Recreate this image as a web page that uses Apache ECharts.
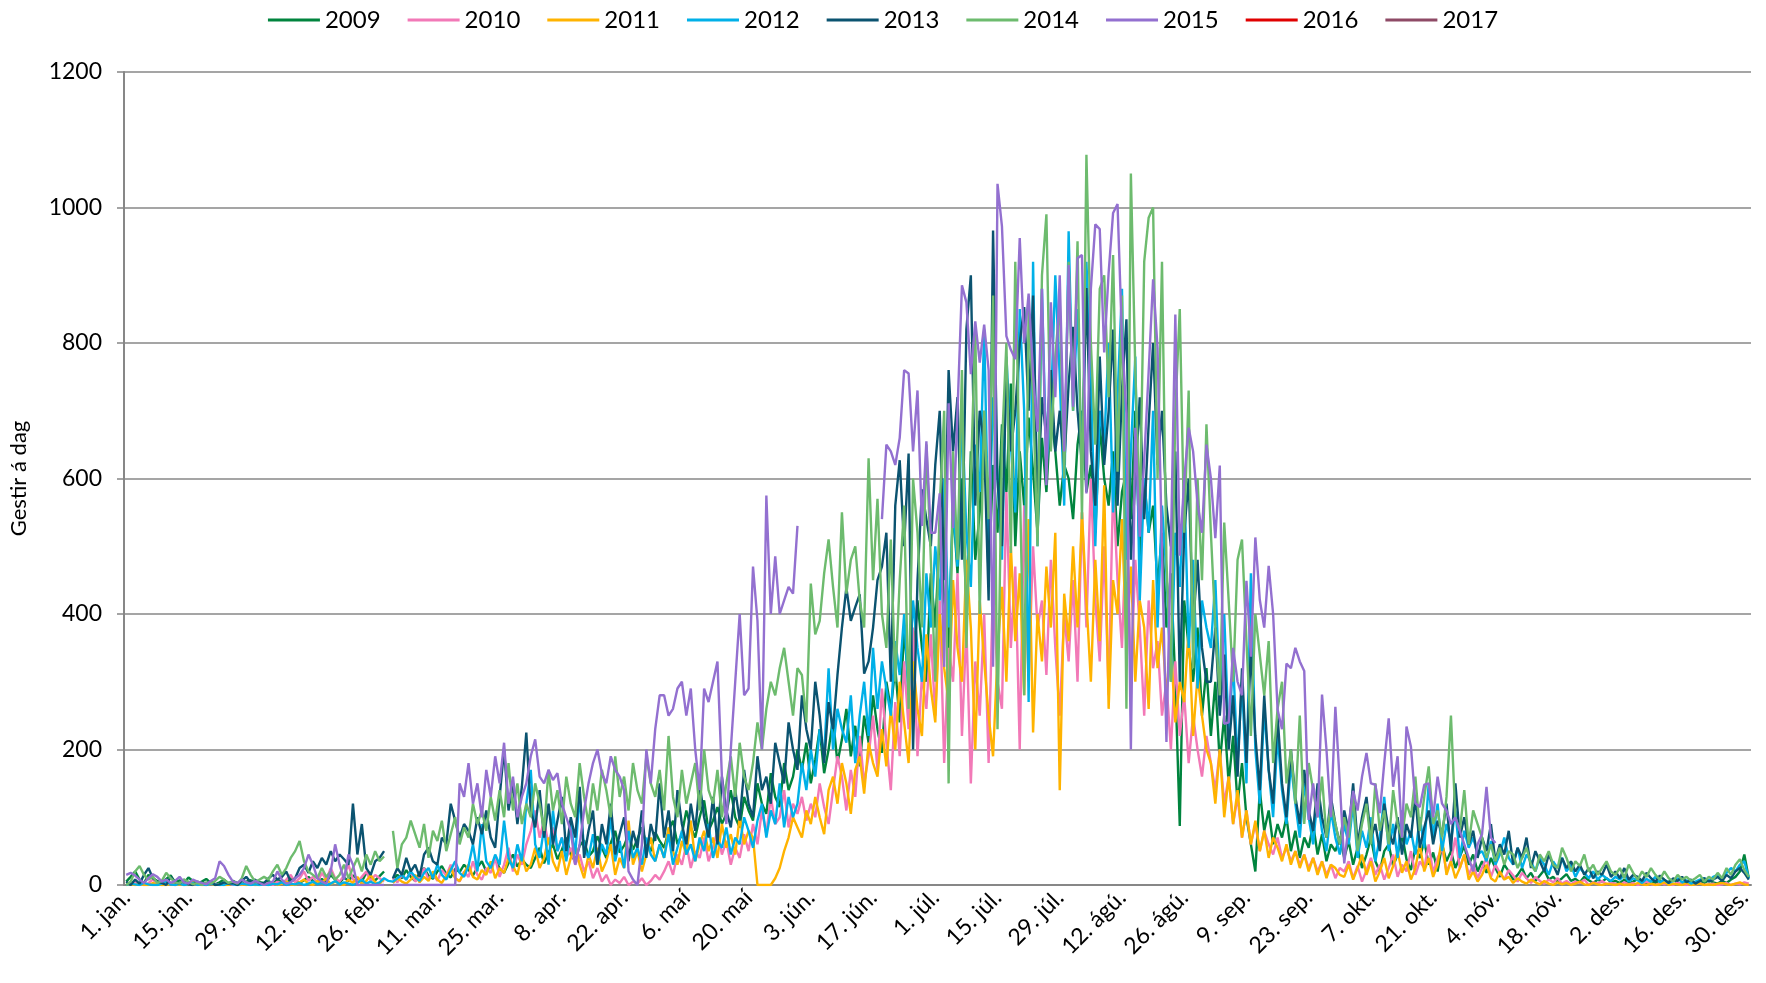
<!DOCTYPE html>
<html>
<head>
<meta charset="utf-8">
<script src="https://cdn.jsdelivr.net/npm/echarts@6/dist/echarts.min.js"></script>
<style>
  html, body { margin: 0; padding: 0; background: #fff; }
  #chart { width: 1766px; height: 983px; }
</style>
</head>
<body>
<div id="chart"></div>
<script>
// day labels (leap-year calendar, 366 days)
const monthNames = ['jan.', 'feb.', 'mar.', 'apr.', 'maí', 'jún.', 'júl.', 'ágú.', 'sep.', 'okt.', 'nóv.', 'des.'];
const monthDays = [31, 29, 31, 30, 31, 30, 31, 31, 30, 31, 30, 31];
const yTicks = [0, 200, 400, 600, 800, 1000, 1200];

const years = ['2009', '2010', '2011', '2012', '2013', '2014', '2015', '2016', '2017'];
const colors = ['#00843e', '#f279b7', '#ffb300', '#00b0e8', '#0b5370', '#6dbb6e', '#9370d0', '#e00000', '#8e4a66'];

// visitors per day, one sub-list per month
const y2009 = [
  [5,12,20,8,3,15,10,6,2,9, 14,4,7,3,11,6,2,5,9,3, 1,4,8,2,6,3,1,5,7,2, 4],
  [3,6,2,8,4,1,10,5,3,7, 12,6,2,9,4,15,8,3,11,6, 14,9,5,18,10,7,13,20, null],
  [8,15,10,22,12,6,18,25,14,9, 20,28,16,11,24,19,30,22,14,26, 35,20,28,40,24,18,32,45,27,38, 30],
  [25,40,55,32,48,60,38,52,70,45, 35,58,66,42,50,72,55,40,62,80, 48,58,75,52,68,85,60,50,78,65],
  [55,80,95,60,75,110,85,70,100,125, 80,95,115,90,105,140,100,85,130,110, 95,150,120,105,165,130,115,180,140,160, 200],
  [170,210,150,185,230,165,200,245,180,215, 260,190,235,175,250,210,280,230,195,300, 260,320,240,380,290,330,420,350,300,460],
  [380,520,420,350,560,460,600,400,640,480, 550,700,450,620,520,680,580,740,500,640, 560,690,610,520,660,580,700,640,560,620, 600],
  [540,650,700,580,620,520,680,600,560,640, 500,580,610,540,700,480,600,520,560,440, 520,380,460,300,87,420,350,300,380,250, 320],
  [220,300,180,250,150,220,120,180,100,60, 20,140,80,110,60,90,70,100,50,80, 40,70,55,90,45,75,35,60,50,70],
  [40,65,30,55,25,45,70,35,20,50, 60,28,45,75,38,22,55,40,65,30, 48,20,60,35,50,25,42,58,30,45, 20],
  [35,18,40,25,12,30,20,8,15,25, 10,18,6,14,22,8,12,5,10,16, 6,9,4,12,7,3,8,5,10,4],
  [6,3,8,2,5,9,4,1,6,3, 7,2,5,8,3,1,4,6,2,5, 3,7,4,2,6,3,8,12,20,45, 10]
].flat();

const y2010 = [
  [0,2,5,1,0,3,8,2,0,1, 4,0,2,6,1,0,3,0,1,5, 2,0,1,3,0,2,0,4,1,0, 2],
  [1,3,0,5,2,8,15,4,10,20, 6,12,3,18,8,25,10,5,14,30, 8,4,12,20,6,15,10,5, null],
  [10,4,15,8,20,5,12,25,8,18, 6,22,14,30,10,5,20,12,35,15, 8,25,18,40,12,30,55,20,45,30, 60],
  [80,110,70,95,60,85,50,70,40,55, 30,45,20,35,10,25,5,15,0,8, 3,12,0,5,2,10,0,6,15,8],
  [20,35,15,45,30,60,25,50,40,70, 35,55,80,45,65,30,55,40,75,50, 90,60,110,75,130,90,100,140,85,120, 105],
  [130,95,120,100,150,115,90,140,190,160, 110,170,130,220,150,190,250,170,290,210, 140,270,190,330,230,380,190,310,260,370],
  [250,420,180,350,300,460,220,380,150,330, 250,400,180,450,300,260,580,350,470,200, 560,300,500,380,420,310,480,350,250,400, 330],
  [450,300,550,380,600,420,330,500,280,590, 450,350,540,300,480,380,250,420,320,360, 250,300,200,330,220,280,180,250,200,160, 220],
  [180,140,200,120,160,90,130,70,110,60, 90,50,80,60,45,70,40,55,35,50, 30,45,25,40,20,35,15,30,10,25],
  [20,35,10,28,5,22,40,15,30,8, 25,45,12,30,20,50,15,35,25,60, 18,40,55,20,35,70,25,45,15,30, 10],
  [25,40,12,30,18,8,22,14,5,18, 10,3,12,6,2,8,4,10,2,6, 1,5,3,8,0,4,2,6,1,3],
  [2,0,4,1,3,0,2,5,1,0, 3,1,2,0,4,1,0,2,1,3, 0,1,2,0,1,3,0,2,1,4, 2]
].flat();

const y2011 = [
  [0,1,0,2,0,0,3,1,0,0, 2,0,1,0,0,4,1,0,0,2, 0,1,0,0,3,0,1,0,2,0, 0],
  [1,0,3,0,2,5,1,0,4,8, 2,0,6,3,10,1,5,2,0,8, 3,12,1,6,15,4,2,9, null],
  [3,10,5,2,8,15,4,12,6,20, 8,3,14,25,10,6,18,30,12,8, 22,15,35,10,25,18,40,28,15,45, 20],
  [30,55,25,40,70,35,20,50,15,40, 60,30,10,45,25,55,20,35,60,15, 40,25,95,30,50,20,45,70,35,60],
  [40,85,50,30,65,45,95,35,60,80, 50,70,40,90,55,75,45,100,60,80, 70,0,0,0,0,10,25,50,70,100, 85],
  [70,110,90,130,100,75,140,160,120,180, 150,105,170,190,135,210,180,160,230,175, 260,200,300,240,180,330,260,220,370,290],
  [240,400,320,270,450,350,300,480,380,200, 420,330,250,190,340,440,300,500,360,460, 280,540,225,400,330,470,380,520,140,430, 360],
  [500,380,550,420,300,480,360,590,260,450, 400,540,350,470,300,420,380,260,450,320, 380,280,350,240,300,270,380,220,310,250, 200],
  [180,120,200,100,160,90,140,70,110,60, 95,50,80,40,70,55,35,60,30,50, 25,45,20,40,15,35,10,30,25,15],
  [12,30,8,25,45,15,35,5,20,40, 10,28,50,18,35,8,25,60,20,40, 12,30,70,15,35,10,25,45,8,20, 5],
  [15,30,10,5,20,8,12,3,10,5, 2,8,4,1,6,2,0,4,1,3, 0,2,5,1,0,3,1,0,2,1],
  [0,2,0,1,0,3,1,0,2,0, 1,4,0,2,1,0,3,0,1,2, 0,1,0,2,3,1,0,2,4,1, 0]
].flat();

const y2012 = [
  [0,2,1,0,3,1,0,0,2,5, 1,0,2,0,1,3,0,1,0,2, 1,0,0,3,1,0,2,1,0,1, 0],
  [1,0,2,1,4,0,2,1,3,0, 2,5,1,3,0,2,6,1,4,2, 0,3,8,2,5,1,4,10,6],
  [5,10,15,8,20,12,6,18,25,10, 30,15,8,22,35,18,12,28,60,20, 90,35,25,45,30,95,40,25,60,35, 120],
  [170,60,40,85,30,110,50,70,35,90, 45,130,55,40,75,30,60,45,100,35, 65,25,80,40,55,30,70,45,35,60],
  [40,75,30,55,80,45,60,35,70,50, 90,40,65,55,85,45,70,60,100,80, 55,95,120,70,110,90,150,85,130,100, 120],
  [180,140,200,160,230,190,320,200,260,230, 210,280,180,250,300,220,350,260,330,290, 250,360,310,400,280,420,350,300,460,380],
  [500,420,600,380,560,470,700,520,440,650, 580,820,500,720,600,480,780,650,550,850, 700,270,920,500,880,620,700,900,750,560, 965],
  [700,850,600,920,750,500,700,650,800,550, 720,880,480,640,780,420,600,520,700,380, 560,460,300,520,440,600,350,480,290,420, 380],
  [350,450,280,400,220,330,180,300,150,460, 200,120,260,170,100,220,140,90,180,120, 70,150,100,60,130,80,50,110,70,45],
  [90,60,120,40,80,55,100,35,70,130, 50,90,40,110,60,80,45,100,55,150, 70,120,50,90,65,110,40,80,55,70, 45],
  [50,35,65,30,45,70,40,30,55,25, 45,35,20,40,30,15,35,25,40,20, 30,12,25,18,10,20,8,15,10,6],
  [12,8,15,5,10,7,3,9,5,12, 4,8,3,6,10,4,7,2,5,8, 10,6,12,15,10,18,25,20,30,35, 10]
].flat();

const y2013 = [
  [5,0,8,2,15,25,10,5,3,0, 12,4,2,8,1,0,5,3,2,6, 0,1,4,2,3,0,6,12,4,8, 2],
  [3,10,15,8,12,20,5,10,25,30, 18,35,25,40,30,50,35,45,38,30, 120,45,90,25,15,35,40,50, null],
  [10,25,15,40,20,30,12,45,55,35, 30,70,60,120,95,70,90,80,60,100, 75,110,70,55,130,200,110,150,90,145, 225],
  [110,85,140,70,120,60,95,130,50,100, 70,145,40,80,110,30,90,60,120,45, 75,100,35,80,55,110,40,90,65,150],
  [70,110,50,140,90,60,120,80,150,100, 70,130,60,160,110,85,140,95,170,120, 100,190,140,160,120,210,180,150,240,200, 170],
  [280,230,200,300,250,180,270,230,310,380, 439,390,410,429,312,330,380,450,470,520, 300,560,627,500,637,200,449,584,540,500],
  [620,700,450,760,640,720,480,820,900,560, 700,650,420,966,600,500,760,640,700,800, 853,700,870,560,720,660,760,640,700,620, 740],
  [824,700,620,881,640,560,780,620,700,820, 560,730,835,480,600,720,540,680,800,620, 700,560,500,640,300,520,600,380,480,350, 300],
  [300,380,250,340,200,280,160,320,180,350, 220,140,280,170,120,250,150,100,200,130, 90,170,110,80,150,100,70,130,90,60],
  [110,80,150,60,100,130,70,90,50,120, 80,60,100,45,90,70,130,55,85,110, 60,95,75,120,50,150,70,100,60,80, 40],
  [70,50,90,35,60,45,80,30,55,40, 70,25,50,35,20,45,30,15,40,25, 35,20,30,15,25,10,20,15,30,12],
  [20,10,25,8,15,12,6,18,10,5, 14,8,3,10,6,12,4,8,2,6, 10,5,8,12,6,15,10,20,25,18, 8]
].flat();

const y2014 = [
  [0,5,20,28,15,8,12,3,6,18, 10,4,2,8,5,1,3,0,4,2, 6,12,8,3,5,2,10,28,15,5, 8],
  [12,8,20,30,15,25,40,50,65,35, 20,15,10,25,12,20,8,15,30,10, 25,40,20,45,30,50,35,42, null],
  [80,25,60,70,95,75,55,90,40,80, 65,95,50,75,100,60,85,70,120,90, 110,80,130,95,140,100,180,110,150,90, 120],
  [100,150,120,80,170,110,140,90,160,120, 100,180,130,90,150,110,170,140,100,190, 130,160,110,180,140,120,190,150,130,170],
  [110,220,130,100,170,120,150,180,110,200, 140,120,170,100,150,190,130,210,160,140, 180,240,200,260,300,280,320,350,300,250, 320],
  [310,240,445,370,390,460,510,440,380,550, 430,480,500,420,380,630,450,570,400,350, 510,300,450,560,260,600,520,380,650,480],
  [300,560,700,150,640,480,760,350,600,820, 400,700,540,870,230,650,800,490,920,600, 280,850,720,500,900,990,640,780,860,600, 920],
  [700,950,540,1078,800,650,880,900,720,930, 610,870,260,1050,760,540,920,985,1000,600, 920,480,300,700,850,520,730,320,600,450, 680],
  [520,380,280,535,420,300,480,510,360,220, 400,340,280,360,180,260,300,150,200,120, 250,90,180,140,100,160,70,120,90,60],
  [100,70,130,50,90,120,60,150,80,110, 60,140,90,70,120,100,160,80,130,175, 90,110,70,130,250,100,80,140,60,110, 90],
  [70,40,60,35,55,30,50,45,25,40, 55,30,20,45,35,50,30,25,55,40, 20,35,28,45,20,30,15,25,35,20],
  [15,25,10,30,18,8,20,12,25,15, 8,20,10,5,15,8,12,6,10,15, 5,12,8,18,10,25,15,30,38,22, 12]
].flat();

const y2015 = [
  [15,18,14,8,3,10,16,12,5,8, 3,6,12,4,2,8,5,3,1,6, 10,35,28,15,5,3,8,4,2,6, 3],
  [0,3,5,20,8,2,4,10,15,25, 45,30,10,5,2,20,60,30,8,45, 30,0,0,0,0,0,0,0, null],
  [0,0,0,0,0,0,0,0,0,0, 0,0,0,0,0,150,130,180,120,150, 100,170,130,190,150,210,120,160,100,130, 150],
  [190,215,160,150,170,155,165,120,100,80, 30,60,110,150,180,200,165,150,190,170, 160,140,20,8,0,60,200,150,230,280],
  [280,250,260,290,300,250,290,200,140,290, 270,300,330,160,90,200,300,400,280,290, 470,390,200,575,400,485,400,420,440,430, 530],
  [null,null,null,null,null,null,null,null,null,null, null,null,null,null,null,null,null,null,540,650, 640,620,660,760,755,640,730,530,655,520],
  [520,578,322,711,527,700,885,860,754,832, 771,827,760,322,1035,972,810,790,776,955, 800,873,754,669,880,590,860,720,900,640, 915],
  [706,925,930,578,880,975,968,786,904,992, 1005,807,696,200,675,514,627,758,894,793, 493,211,500,842,486,598,675,640,563,520, 650],
  [600,512,619,238,240,350,300,280,449,337, 513,421,380,471,400,259,230,327,320,350, 330,316,96,150,100,281,200,100,263,150],
  [32,90,139,110,160,195,150,148,106,180, 246,145,190,70,234,204,121,115,148,150, 100,160,120,110,90,100,80,60,40,20, 60],
  [75,145,70,62]
].flat();

const y2016 = [];
const y2017 = [];

const yearData = [y2009, y2010, y2011, y2012, y2013, y2014, y2015, y2016, y2017];

const days = [];
monthDays.forEach((n, m) => {
  for (let d = 1; d <= n; d++) days.push(d + '. ' + monthNames[m]);
});

const font = 'Lato, "Noto Sans", sans-serif';
const gray = '#878787';

const chart = echarts.init(document.getElementById('chart'));

chart.setOption({
  animation: false,
  backgroundColor: '#fff',
  legend: {
    top: 3,
    left: 'center',
    icon: 'rect',
    itemWidth: 52,
    itemHeight: 3,
    itemGap: 27,
    textStyle: { fontFamily: font, fontSize: 24, color: '#000' },
    data: years
  },
  grid: { left: 124, right: 15, top: 72, bottom: 98 },
  xAxis: {
    type: 'category',
    data: days,
    boundaryGap: true,
    axisLine: { lineStyle: { color: gray, width: 2 } },
    axisTick: { interval: 0, length: 6, lineStyle: { color: gray, width: 1 } },
    axisLabel: {
      interval: 13,
      rotate: 45,
      margin: 9,
      fontFamily: font,
      fontSize: 23,
      color: '#000'
    },
    splitLine: { show: false }
  },
  yAxis: {
    type: 'value',
    min: yTicks[0],
    max: yTicks[yTicks.length - 1],
    interval: 200,
    name: 'Gestir á dag',
    nameLocation: 'middle',
    nameRotate: 90,
    nameGap: 94,
    nameTextStyle: { fontFamily: font, fontSize: 22, color: '#000' },
    axisLine: { show: true, lineStyle: { color: gray, width: 2 } },
    axisTick: { show: true, length: 7, lineStyle: { color: gray, width: 1.5 } },
    axisLabel: { margin: 22, fontFamily: font, fontSize: 23, color: '#000', formatter: v => String(v) },
    splitLine: { lineStyle: { color: gray, width: 1.5 } }
  },
  series: years.map((y, k) => ({
    name: y,
    type: 'line',
    data: yearData[k],
    symbol: 'none',
    connectNulls: false,
    lineStyle: { color: colors[k], width: 2.4 },
    itemStyle: { color: colors[k] }
  }))
});
</script>
</body>
</html>
